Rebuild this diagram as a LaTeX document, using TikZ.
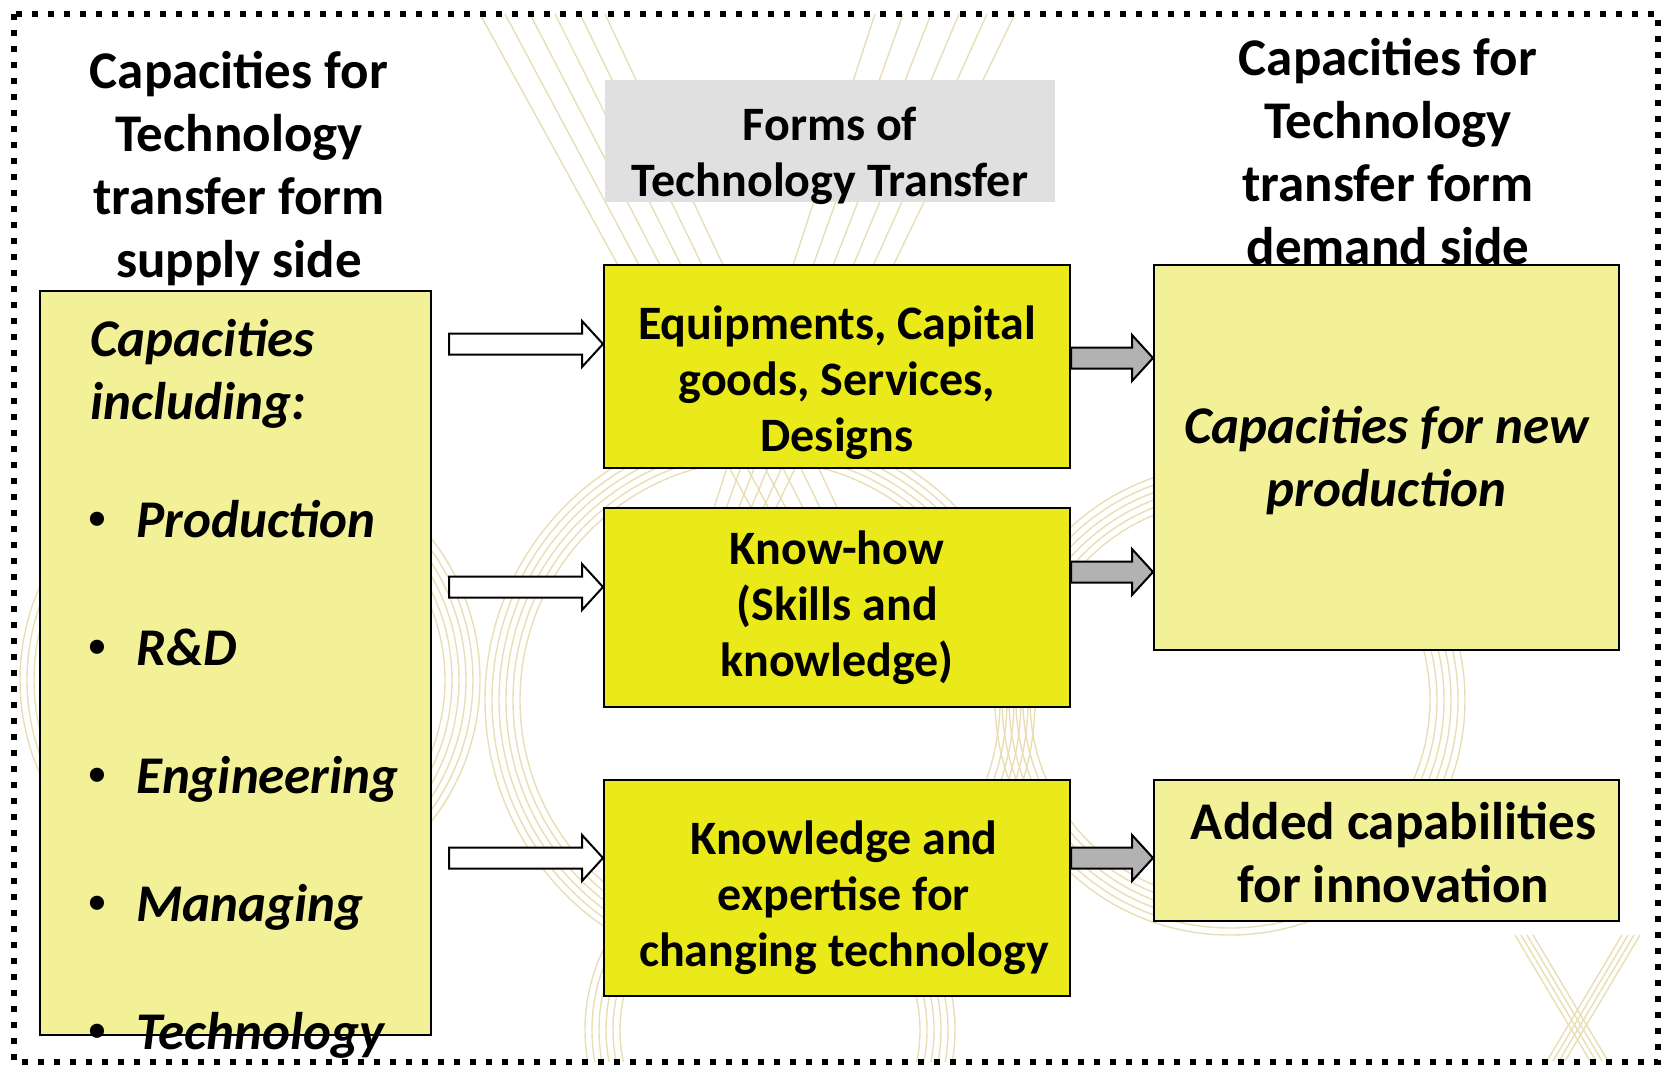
\documentclass[tikz,border=0pt]{standalone}
\usepackage{fontspec}
\setmainfont{Carlito}
\usetikzlibrary{calc}
\usepackage{xcolor}

\definecolor{paleyellow}{RGB}{243,241,152}
\definecolor{brightyellow}{RGB}{234,233,26}
\definecolor{titlegrey}{RGB}{224,224,224}
\definecolor{arrowgrey}{RGB}{178,178,178}
\definecolor{bgline}{RGB}{232,222,180}

% block arrow: fill, tail, tip
\newcommand\blockarrow[3]{%
  \draw[line width=1pt, fill=#1] let \p1=(#2), \p2=(#3) in
    (\x1,\y1+5.25pt) -- (\x2-10.5pt,\y1+5.25pt) -- (\x2-10.5pt,\y1+11.5pt) -- (\x2,\y1)
    -- (\x2-10.5pt,\y1-11.5pt) -- (\x2-10.5pt,\y1-5.25pt) -- (\x1,\y1-5.25pt) -- cycle;}

\begin{document}
\begin{tikzpicture}[x=0.5pt, y=-0.5pt,
    bg/.style={draw=bgline, line width=0.7pt},
    bigtext/.style={font=\fontsize{26.5}{31.5}\selectfont\bfseries, align=center, inner sep=0pt},
    bigitalic/.style={bigtext, font=\fontsize{26.5}{31.5}\selectfont\bfseries\itshape},
    smalltext/.style={font=\fontsize{24}{28}\selectfont\bfseries, align=center, inner sep=0pt},
    formbox/.style={draw=black, line width=1pt, fill=brightyellow, minimum width=233pt},
    capbox/.style={draw=black, line width=1pt, fill=paleyellow, minimum width=232.5pt}]
\useasboundingbox (0,0) rectangle (1661,1065);

% faint background lines
\begin{scope}
\clip (13,14) rectangle (1658,1061);
\foreach \i in {0,...,5} {
    \draw[bg] (480+25*\i,14) -- (758+17*\i,520);
    \draw[bg] (875+28*\i,14) -- (710+12*\i,520);
    \draw[bg] (760,700) circle[radius=240+7*\i];
    \draw[bg] (770,1030) circle[radius=150+7*\i];
    \draw[bg] (1230,700) circle[radius=200+7*\i];
    \draw[bg] (250,680) circle[radius=195+7*\i];
}
\foreach \i in {0,...,3} {
    \draw[bg] (1515+6*\i,935) -- (1590+6*\i,1061);
    \draw[bg] (1640-6*\i,935) -- (1565-6*\i,1061);
}
\end{scope}

% titles
\node[bigtext] (supplytitle) at (239,169) {Capacities for\\Technology\\transfer form\\supply side};
\node[bigtext] (demandtitle) at (1388,152) {Capacities for\\Technology\\transfer form\\demand side};
\node[fill=titlegrey, minimum width=225pt, minimum height=61pt] (formsbox) at (830,141) {};
\node[smalltext, yshift=-7.5pt] (formstitle) at (formsbox) {Forms of\\Technology Transfer};

% boxes
\node[draw=black, line width=1pt, fill=paleyellow, minimum width=195.5pt, minimum height=372pt] (supply) at (235.5,663) {};
\node[formbox, minimum height=101.5pt] (equip) at (837,366.5) {};
\node[formbox, minimum height=99.5pt] (knowhow) at (837,607.5) {};
\node[formbox, minimum height=108pt] (expert) at (837,888) {};
\node[capbox, minimum height=192.5pt] (newprod) at (1386.5,457.5) {};
\node[capbox, minimum height=70.5pt] (innov) at (1386.5,850.5) {};

% box texts
\node[smalltext, yshift=-8pt] (equiptext) at (equip) {Equipments, Capital\\goods, Services,\\Designs};
\node[smalltext] (knowhowtext) at (knowhow) {Know-how\\(Skills and\\knowledge)};
\node[smalltext, xshift=3.5pt, yshift=-4.75pt] (experttext) at (expert) {Knowledge and\\expertise for\\changing technology};
\node[bigitalic, yshift=-1.5pt] (newprodtext) at (newprod) {Capacities for new\\production};
\node[bigtext, xshift=3.5pt, yshift=-1pt] (innovtext) at (innov) {Added capabilities\\for innovation};

% supply side list
\node[bigitalic, align=left, anchor=west] (capincl) at (90,374) {Capacities\\including:};
\foreach \k/\word in {0/Production, 1/R\&D, 2/Engineering, 3/Managing, 4/Technology} {
    \node[font=\fontsize{20}{20}\selectfont, inner sep=0pt] (bul\k) at (97,521+128*\k) {•};
    \node[bigitalic, anchor=base west] (it\k) at (136,537+128*\k) {\word};
}

% arrows
\coordinate (w1) at (449,344);
\coordinate (w2) at (449,587);
\coordinate (w3) at (449,858);
\coordinate (g1) at (1110,358);
\coordinate (g2) at (1110,572);
\coordinate (g3) at (1110,858);
\blockarrow{white}{w1}{equip.west |- w1}
\blockarrow{white}{w2}{knowhow.west |- w2}
\blockarrow{white}{w3}{expert.west |- w3}
\blockarrow{arrowgrey}{equip.east |- g1}{newprod.west |- g1}
\blockarrow{arrowgrey}{knowhow.east |- g2}{newprod.west |- g2}
\blockarrow{arrowgrey}{expert.east |- g3}{innov.west |- g3}

% dotted frame
\draw[line width=3pt, dash pattern=on 3pt off 5pt] (13.5,14) rectangle (1658,1061.5);
\end{tikzpicture}
\end{document}
